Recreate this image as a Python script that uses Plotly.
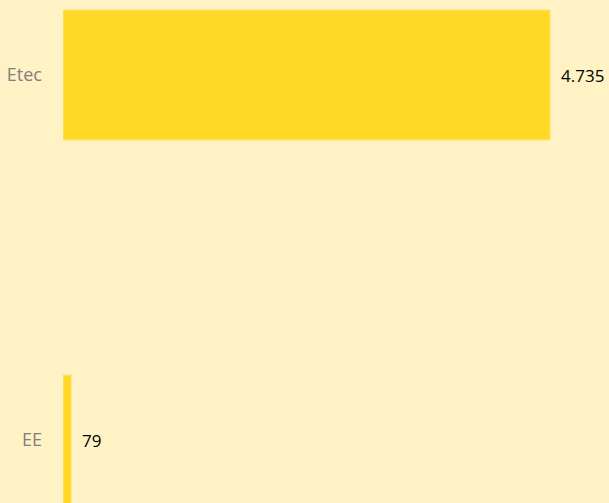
import plotly.graph_objects as go

categories = ["EE", "Etec"]
values = [79, 4735]
labels = ["79", "4.735"]
positions = [0, 1]

FONT = "Open Sans, Liberation Sans, sans-serif"
BG = "#FFF2C5"

fig = go.Figure(go.Bar(
    x=values, y=positions, orientation="h",
    width=0.356,
    marker=dict(color="#FFD926", line=dict(color="#FFE27A", width=1)),
    hoverinfo="skip",
))
for v, p, t in zip(values, positions, labels):
    fig.add_annotation(x=v, y=p, text=t, showarrow=False, xanchor="left",
                       xshift=9, font=dict(family=FONT, size=17, color="#000000"))

fig.update_layout(
    width=609, height=503,
    margin=dict(l=63, r=0, t=0, b=0),
    paper_bgcolor=BG, plot_bgcolor=BG,
    showlegend=False,
    xaxis=dict(range=[0, 5308], visible=False, showgrid=False, zeroline=False),
    yaxis=dict(range=[-0.1726, 1.2055], tickvals=positions, ticktext=categories,
               showgrid=False, zeroline=False, showline=False, ticks="",
               ticklabelstandoff=20,
               tickfont=dict(family=FONT, size=18, color="#7F7F7F")),
)
fig.write_html("out.html", config={"displayModeBar": False},
               post_script="document.body.style.margin='0';document.body.style.background='%s';" % BG)
